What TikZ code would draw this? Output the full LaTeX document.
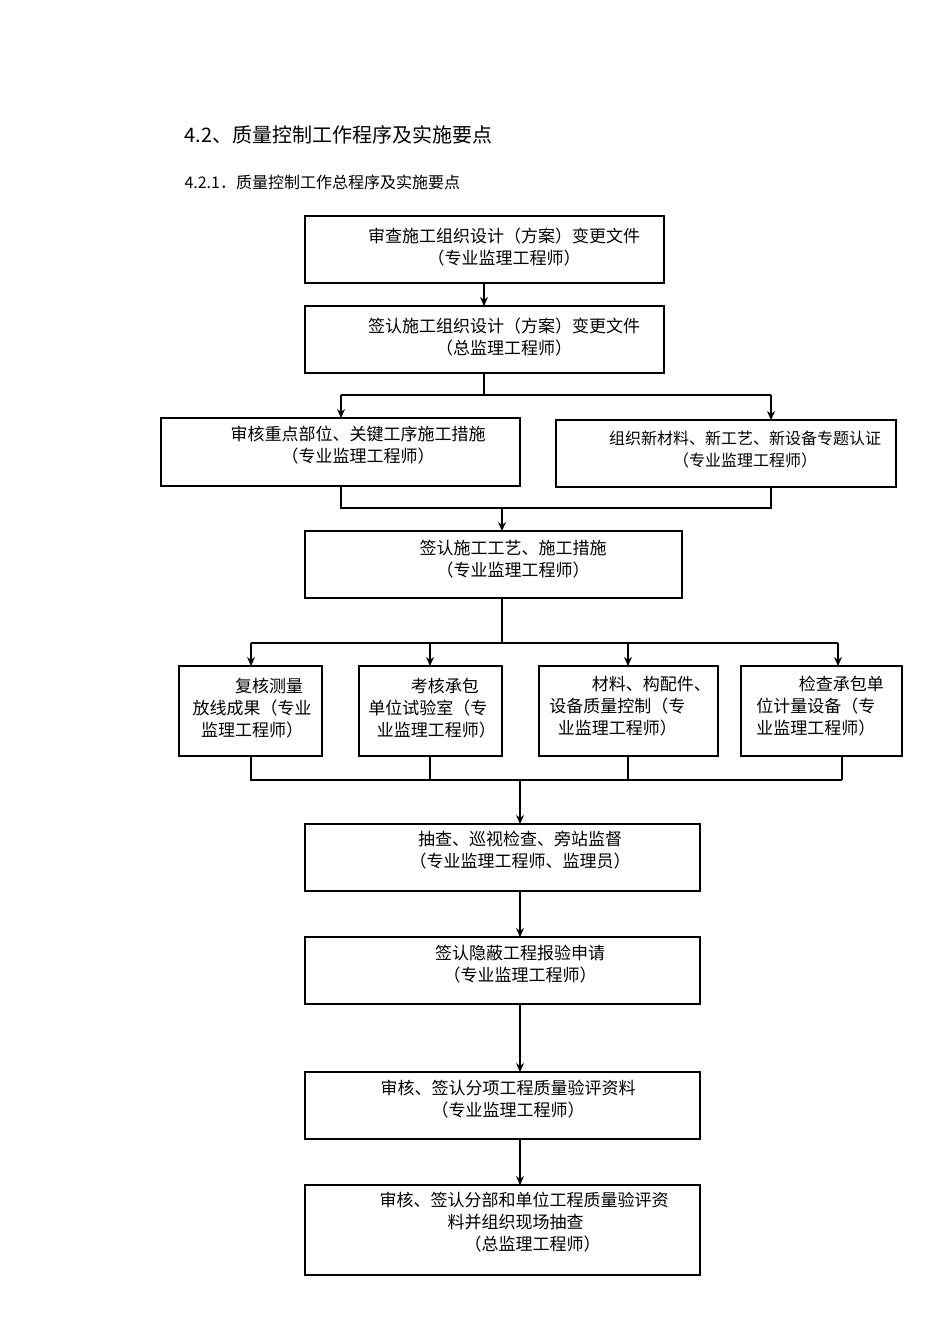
\documentclass[tikz,border=0pt]{standalone}
\usepackage{fontspec}
\setmainfont{Noto Sans CJK SC}
\usetikzlibrary{arrows.meta}
\begin{document}
\begin{tikzpicture}[x=1pt,y=-1pt,
  bx/.style={draw,line width=1.3pt},
  tx/.style={font=\fontsize{17}{22}\selectfont,align=center,inner sep=0pt},
  ln/.style={line width=1.3pt},
  ar/.style={line width=1.3pt,-{Stealth[length=9pt,width=8pt]}}]
\useasboundingbox (0,0) rectangle (950,1344);
\node[anchor=west,font=\fontsize{20}{24}\selectfont] (h1) at (181,135) {4.2、质量控制工作程序及实施要点};
\node[anchor=west,font=\fontsize{16}{20}\selectfont] (h2) at (181,182) {4.2.1．质量控制工作总程序及实施要点};

\draw[bx] (305,216) rectangle (664,283);
\node[tx] at (504,247) {审查施工组织设计（方案）变更文件\\（专业监理工程师）};
\draw[bx] (305,306) rectangle (664,373);
\node[tx] at (504,337) {签认施工组织设计（方案）变更文件\\（总监理工程师）};
\draw[bx] (161,418) rectangle (520,486);
\node[tx] at (358,445) {审核重点部位、关键工序施工措施\\（专业监理工程师）};
\draw[bx] (556,420) rectangle (896,487);
\node[tx,font=\fontsize{16}{22}\selectfont] at (745,450) {组织新材料、新工艺、新设备专题认证\\（专业监理工程师）};
\draw[bx] (305,531) rectangle (682,598);
\node[tx] at (513,559) {签认施工工艺、施工措施\\（专业监理工程师）};
\draw[bx] (179,666) rectangle (322,756);
\node[tx,align=left] at (252,708) {\hspace*{2.5em}复核测量\\放线成果（专业\\\hspace*{0.5em}监理工程师）};
\draw[bx] (359,666) rectangle (502,756);
\node[tx,align=left] at (432,708) {\hspace*{2.5em}考核承包\\单位试验室（专\\\hspace*{0.5em}业监理工程师）};
\draw[bx] (539,666) rectangle (718,756);
\node[tx,align=left] at (630,706) {\hspace*{2.5em}材料、构配件、\\设备质量控制（专\\\hspace*{0.5em}业监理工程师）};
\draw[bx] (741,666) rectangle (902,756);
\node[tx,align=left] at (820,706) {\hspace*{2.5em}检查承包单\\位计量设备（专\\业监理工程师）};
\draw[bx] (305,824) rectangle (700,891);
\node[tx] at (520,850) {抽查、巡视检查、旁站监督\\（专业监理工程师、监理员）};
\draw[bx] (305,937) rectangle (700,1004);
\node[tx] at (520,964) {签认隐蔽工程报验申请\\（专业监理工程师）};
\draw[bx] (305,1072) rectangle (700,1139);
\node[tx] at (508,1099) {审核、签认分项工程质量验评资料\\（专业监理工程师）};
\draw[bx] (305,1185) rectangle (700,1275);
\node[tx,align=left] at (524,1222) {审核、签认分部和单位工程质量验评资\\\hspace*{4em}料并组织现场抽查\\\hspace*{5em}（总监理工程师）};

\draw[ar] (484,283) -- (484,306);
\draw[ln] (484,373) -- (484,395);
\draw[ln] (341,395) -- (771,395);
\draw[ar] (341,395) -- (341,418);
\draw[ar] (771,395) -- (771,420);
\draw[ln] (341,486) -- (341,508) -- (771,508) -- (771,487);
\draw[ar] (502,508) -- (502,531);
\draw[ln] (502,598) -- (502,643);
\draw[ln] (251,643) -- (838,643);
\foreach \x in {251,430,628,838} \draw[ar] (\x,643) -- (\x,666);
\draw[ln] (251,756) -- (251,780) -- (842,780);
\foreach \x in {430,628,842} \draw[ln] (\x,756) -- (\x,780);
\draw[ar] (520,780) -- (520,824);
\draw[ar] (520,891) -- (520,937);
\draw[ar] (520,1004) -- (520,1072);
\draw[ar] (520,1139) -- (520,1185);
\end{tikzpicture}
\end{document}
